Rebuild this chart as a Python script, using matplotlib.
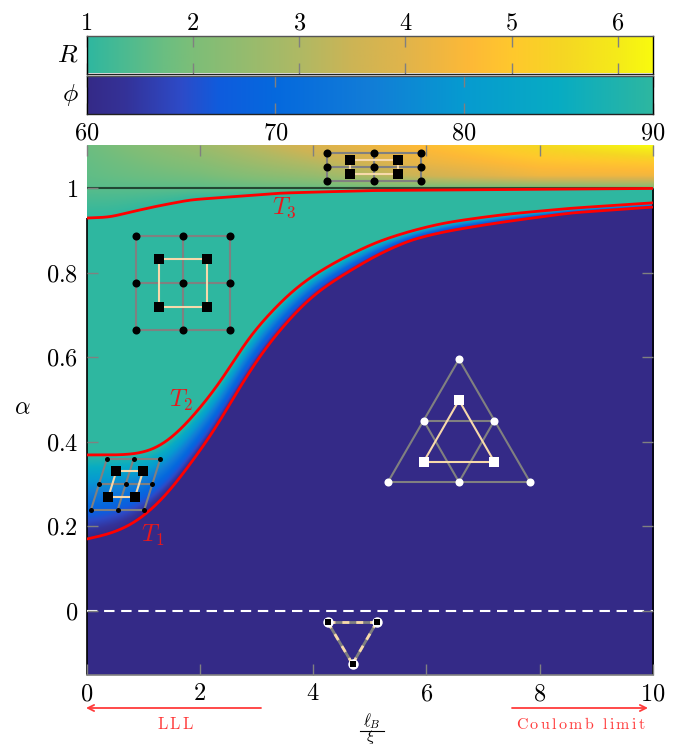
import numpy as np
import matplotlib
matplotlib.use("Agg")
import matplotlib.pyplot as plt
from matplotlib.colors import LinearSegmentedColormap, Normalize

plt.rcParams['mathtext.fontset'] = 'cm'
plt.rcParams['font.family'] = ['cmr10', 'DejaVu Sans']
plt.rcParams['axes.formatter.use_mathtext'] = True

# ---------- data ----------
T1_x = [0, 0.47, 0.89, 1.24, 1.53, 1.88, 2.18, 2.53, 2.89, 3.29, 3.65, 4.0, 4.47, 5.13, 5.71, 6.29, 6.89, 7.48, 8.53, 10]
T1_a = [0.170, 0.184, 0.211, 0.251, 0.293, 0.357, 0.411, 0.489, 0.570, 0.645, 0.700, 0.747, 0.790, 0.842, 0.877, 0.896, 0.910, 0.922, 0.941, 0.955]
T2_x = [0, 0.71, 1.12, 1.47, 1.83, 2.12, 2.39, 2.83, 3.18, 3.59, 4.0, 4.53, 5.13, 5.71, 6.29, 6.89, 7.48, 8.53, 10]
T2_a = [0.369, 0.369, 0.377, 0.404, 0.452, 0.499, 0.546, 0.641, 0.696, 0.752, 0.794, 0.835, 0.873, 0.898, 0.917, 0.929, 0.939, 0.952, 0.965]
T3_x = [0, 0.41, 0.77, 1.24, 1.83, 2.53, 3.42, 5.0, 10]
T3_a = [0.929, 0.931, 0.943, 0.957, 0.972, 0.979, 0.988, 0.994, 0.999]

R_x = [0, 2, 4, 6, 8, 10]
R_at_100 = [1.50, 1.55, 1.70, 1.80, 1.90, 2.00]
R_at_103 = [1.60, 1.90, 2.50, 3.60, 4.30, 4.35]
R_at_106 = [1.65, 2.20, 3.10, 4.20, 4.80, 5.00]
R_at_110 = [1.75, 2.60, 3.80, 4.70, 5.50, 6.33]
R_levels = [1.0, 1.03, 1.06, 1.10]

phi_vals = [60, 62, 65, 67, 70, 75, 80, 85, 90]
phi_cols = [(53,42,135), (52,50,152), (45,75,200), (15,92,221), (5,105,222), (18,125,215), (6,155,208), (8,172,195), (46,183,160)]
R_vals = [1, 1.7, 2, 3, 3.5, 4, 4.6, 5, 5.5, 6, 6.33]
R_cols = [(46,183,160), (105,190,130), (125,190,120), (175,185,100), (205,180,85), (225,180,75), (253,185,55), (255,200,45), (245,215,35), (245,235,25), (249,251,14)]

R_ticks = [1, 2, 3, 4, 5, 6]
phi_ticks = [60, 70, 80, 90]
x_ticks = [0, 2, 4, 6, 8, 10]
a_ticks = [0, 0.2, 0.4, 0.6, 0.8, 1]

# ---------- layout ----------
W, H = 678, 746
L, Rt = 86.5, 653.0
dpi = 100
fig = plt.figure(figsize=(W/dpi, H/dpi), dpi=dpi)
def axpx(x0, y0, x1, y1):
    return fig.add_axes([x0/W, 1-y1/H, (x1-x0)/W, (y1-y0)/H])

def mkcmap(vals, cols):
    v = np.array(vals, float); v = (v-v[0])/(v[-1]-v[0])
    return LinearSegmentedColormap.from_list('c', [(a, tuple(c/255 for c in col)) for a, col in zip(v, cols)], N=512)
phi_cmap = mkcmap(phi_vals, phi_cols)
R_cmap = mkcmap(R_vals, R_cols)
phi_norm = Normalize(60, 90)
R_norm = Normalize(1, 6.33)
GR = '#808080'
FS = 17.5

# ---------- colour bars ----------
axR = axpx(L, 36, Rt, 73.5)
axP = axpx(L, 76, Rt, 114)
axR.imshow(np.linspace(1, 6.33, 512)[None, :], aspect='auto', extent=[1, 6.33, 0, 1], cmap=R_cmap, norm=R_norm)
axP.imshow(np.linspace(60, 90, 512)[None, :], aspect='auto', extent=[60, 90, 0, 1], cmap=phi_cmap, norm=phi_norm)
for ax, ticks, lab in ((axR, R_ticks, 'R'), (axP, phi_ticks, r'\phi')):
    ax.set_yticks([])
    ax.set_xticks(ticks)
    ax.set_xticklabels([f'${t}$' for t in ticks], fontsize=FS)
    ax.tick_params(axis='x', direction='in', length=8, width=1, color=GR, top=True, bottom=True, pad=6)
    for s, c in (('top', '#555555'), ('bottom', '#222222'), ('left', 'black'), ('right', 'black')):
        ax.spines[s].set_color(c); ax.spines[s].set_linewidth(1)
    ax.text(-0.014, 0.5, f'${lab}$', transform=ax.transAxes, ha='right', va='center', fontsize=FS+1)
axR.xaxis.tick_top()
axR.tick_params(axis='x', top=True, bottom=True, labeltop=True, labelbottom=False, pad=1)

# ---------- main panel ----------
ax = axpx(L, 145, Rt, 675)
XMIN, XMAX, AMIN, AMAX = 0, 10, -0.1513, 1.1017
ax.set_xlim(XMIN, XMAX); ax.set_ylim(AMIN, AMAX)

def smooth(x, y, n=1400, w=61, passes=2):
    xs = np.linspace(0, 10, n)
    ys = np.interp(xs, x, y)
    for _ in range(passes):
        pad = w
        left = 2*ys[0]-ys[pad:0:-1]
        right = 2*ys[-1]-ys[-2:-pad-2:-1]
        ys = np.convolve(np.r_[left, ys, right], np.ones(w)/w, mode='same')[pad:-pad]
    return xs, ys

xs, t1 = smooth(T1_x, T1_a)
_, t2 = smooth(T2_x, T2_a)
_, t3 = smooth(T3_x, T3_a, w=41)

gx = np.linspace(0, 10, 1134)
ga = np.linspace(AMIN, AMAX, 1060)
X, A = np.meshgrid(gx, ga)
G1 = np.interp(gx, xs, t1)[None, :]
G2 = np.interp(gx, xs, t2)[None, :]
G3 = np.interp(gx, xs, t3)[None, :]

frac = np.clip((A-G1)/np.maximum(G2-G1, 1e-3), 0, 1)**1.15
phi = 60 + 30*frac
ax.imshow(phi, origin='lower', extent=[0, 10, AMIN, AMAX], aspect='auto', cmap=phi_cmap, norm=phi_norm, zorder=1)

rows = np.array([np.interp(gx, R_x, r) for r in (R_at_100, R_at_103, R_at_106, R_at_110)])
Rf = np.full(A.shape, np.nan)
for j in range(len(gx)):
    col = np.interp(ga, R_levels, rows[:, j])
    below = ga < 1.0
    col[below] = 1 + (rows[0, j]-1)*np.clip((ga[below]-G3[0, j])/max(1-G3[0, j], 1e-3), 0, 1)
    Rf[:, j] = col
Rf = np.ma.masked_where(A < G3, Rf)
ax.imshow(Rf, origin='lower', extent=[0, 10, AMIN, AMAX], aspect='auto', cmap=R_cmap, norm=R_norm, zorder=1.1)

ax.plot([0, 10], [1, 1], color='black', alpha=0.62, lw=1.5, zorder=2, solid_capstyle='butt')
ax.plot([0, 10], [0, 0], color='white', lw=1.5, dashes=(5, 3.2), zorder=2)
for t in (t1, t2, t3):
    ax.plot(xs, t, color='#ff0000', lw=2.0, zorder=5, solid_capstyle='butt')

for s in ('top', 'left', 'right'):
    ax.spines[s].set_visible(False)
ax.spines['bottom'].set_color(GR); ax.spines['bottom'].set_linewidth(1.2)
ax.plot([0, 0], [AMIN, t3[0]], color='black', lw=1.2, clip_on=False, zorder=1.5, solid_capstyle='butt')
ax.plot([10, 10], [AMIN, 1], color='black', lw=1.2, clip_on=False, zorder=1.5, solid_capstyle='butt')

ax.set_xticks(x_ticks); ax.set_xticklabels([f'${t}$' for t in x_ticks], fontsize=FS)
ax.set_yticks(a_ticks); ax.set_yticklabels([f'${t}$' for t in a_ticks], fontsize=FS)
ax.tick_params(axis='both', direction='in', length=8, width=1, color=GR, top=True, right=True, pad=6)
ax.set_axisbelow(False)

# ---------- schematic lattices (positions given in image pixels) ----------
def D(p):
    p = np.atleast_2d(p).astype(float)
    return (p[:, 0]-L)*(XMAX-XMIN)/(Rt-L), AMIN + (675-p[:, 1])*(AMAX-AMIN)/(675-145)

TAN = '#f7d9ab'
def seg(pts, color=GR, lw=1.5, z=6, **k):
    x, y = D(pts)
    ax.plot(x, y, color=color, lw=lw, zorder=z, solid_capstyle='round', clip_on=False, **k)
def dots(pts, color='black', ms=5.8, marker='o', z=8):
    x, y = D(pts)
    ax.plot(x, y, ls='none', marker=marker, color=color, ms=ms, mew=0, zorder=z, clip_on=False)

def square_lattice(xc, yc, xq, yq, cs, qs):
    for y in yc: seg([(xc[0], y), (xc[-1], y)])
    for x in xc: seg([(x, yc[0]), (x, yc[-1])])
    for y in yq: seg([(xq[0], y), (xq[1], y)], TAN, z=7)
    for x in xq: seg([(x, yq[0]), (x, yq[1])], TAN, z=7)
    dots([(x, y) for x in xc for y in yc], ms=cs)
    dots([(x, y) for x in xq for y in yq], marker='s', ms=qs)

square_lattice([326.7, 374, 421], [152.7, 166.7, 181], [350.3, 397.7], [159.7, 173.7], 5.8, 6.5)
square_lattice([135.7, 183, 230.3], [235.7, 283, 330.3], [159.3, 206.7], [259.3, 306.7], 5.8, 6.8)

c = np.array([[107, 458.7], [133.7, 458.7], [160.3, 458.7],
              [99, 484.3], [125.7, 484.3], [152.3, 484.3],
              [91, 509.7], [117.7, 509.7], [144.3, 509.7]])
for i in range(3):
    seg([c[3*i], c[3*i+2]])
    seg([c[i], c[6+i]])
q = np.array([[116.3, 471.3], [143, 471.3], [108.3, 497], [135, 497]])
for a, b in ((0, 1), (2, 3), (0, 2), (1, 3)):
    seg([q[a], q[b]], TAN, z=7)
dots(c, ms=3.6)
dots(q, marker='s', ms=6.8)

tc = np.array([[459, 359.3], [423.7, 420.7], [494.3, 420.7], [388, 482], [459, 482], [530, 482]])
for a, b in ((0, 3), (3, 5), (5, 0), (1, 2), (2, 4), (4, 1)):
    seg([tc[a], tc[b]])
tq = np.array([[459, 400.3], [423.7, 461.7], [494.3, 461.7]])
for a, b in ((0, 1), (1, 2), (2, 0)):
    seg([tq[a], tq[b]], TAN, z=7)
dots(tc, color='white', ms=5.8)
dots(tq, color='white', marker='s', ms=6.8)

bt = np.array([[327.5, 621.7], [377, 621.7], [352.5, 664]])
for a, b in ((0, 1), (1, 2), (2, 0)):
    seg([bt[a], bt[b]], lw=2.0)
    x, y = D([bt[a], bt[b]])
    ax.plot(x, y, color=TAN, lw=2.0, dashes=(2.5, 2.5), zorder=7)
dots(bt, color='white', ms=7.5, z=8)
dots(bt, color='black', marker='s', ms=4.8, z=9)

# ---------- annotations ----------
def P(px, py):
    x, y = D((px, py))
    return x[0], y[0]
RED = '#e8181c'
for lab, pos in (('T_1', (153, 535)), ('T_2', (181, 400)), ('T_3', (284, 208))):
    ax.text(*P(*pos), f'${lab}$', color=RED, fontsize=FS, ha='center', va='center', zorder=9)
ax.text(*P(22, 408), r'$\alpha$', fontsize=FS, ha='center', va='center', clip_on=False)

# fraction of the x label
ax.text(*P(372, 721.5), r'$\ell_B$', fontsize=12, ha='center', va='center', clip_on=False)
ax.plot(*D([(360, 731), (384, 731)]), color='black', lw=0.8, clip_on=False)
ax.text(*P(371, 737.5), r'$\xi$', fontsize=11.5, ha='center', va='center', clip_on=False)

ARROW = '#ff3b3b'
ax.annotate('', xy=P(86, 708), xytext=P(261, 708), annotation_clip=False,
            arrowprops=dict(arrowstyle='->', color=ARROW, lw=1.3, shrinkA=0, shrinkB=0, mutation_scale=11))
ax.annotate('', xy=P(648, 708), xytext=P(512, 708), annotation_clip=False,
            arrowprops=dict(arrowstyle='->', color=ARROW, lw=1.3, shrinkA=0, shrinkB=0, mutation_scale=11))
ax.text(*P(176, 724), r'$\mathrm{L\,L\,L}$', color=ARROW, fontsize=12, ha='center', va='center', clip_on=False)
ax.text(*P(581, 724), r'$\mathrm{C\,o\,u\,l\,o\,m\,b\ \ l\,i\,m\,i\,t}$', color=ARROW, fontsize=11.5, ha='center', va='center', clip_on=False)

fig.savefig('out.png', dpi=dpi)
